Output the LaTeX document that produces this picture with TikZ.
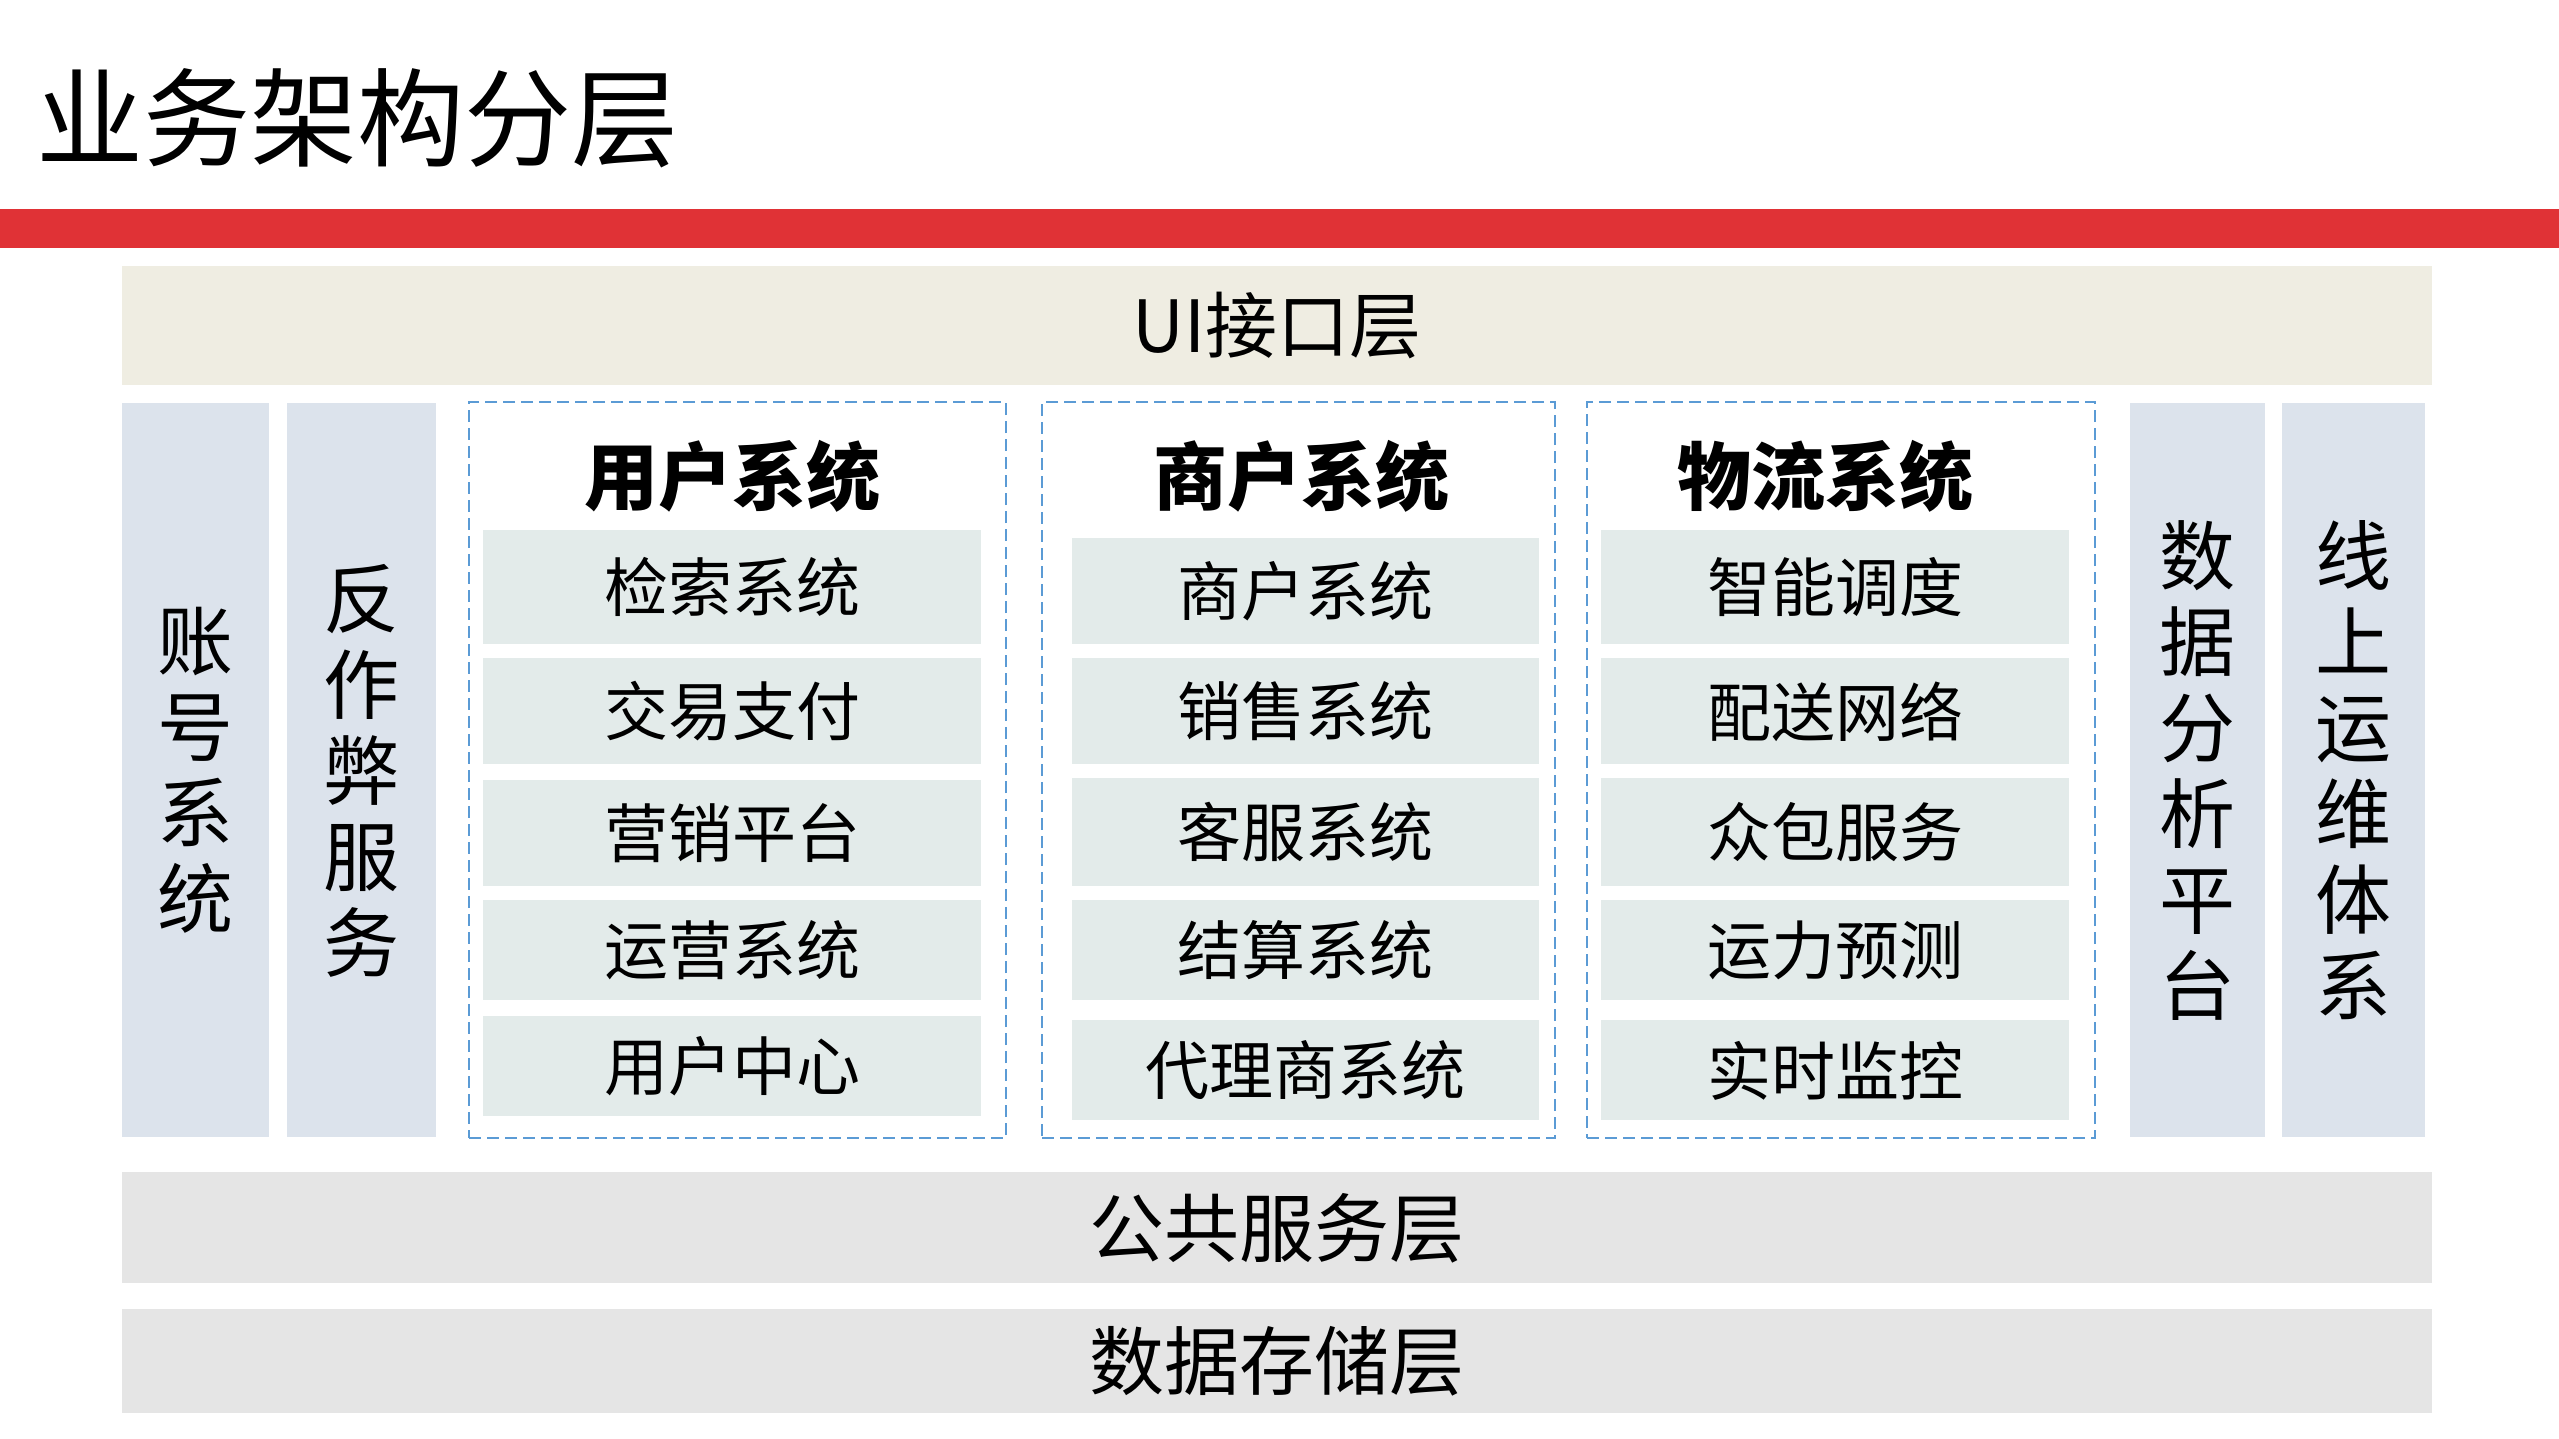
\documentclass[tikz,border=0pt]{standalone}
\usepackage{fontspec}
\newfontfamily\cjk{Noto Sans CJK SC}
\usepackage{tikz}
\usetikzlibrary{positioning}
\definecolor{barred}{RGB}{224,50,54}
\definecolor{uibeige}{RGB}{239,237,226}
\definecolor{colblue}{RGB}{220,227,236}
\definecolor{itemgrey}{RGB}{227,235,234}
\definecolor{bandgrey}{RGB}{229,229,229}
\definecolor{dashblue}{RGB}{91,155,213}
\tikzstyle{layerbox} = [rectangle, fill=bandgrey, anchor=north west, inner sep=0pt,
    font=\cjk\fontsize{37.5}{44}\selectfont]
\tikzstyle{sidecol} = [rectangle, fill=colblue, anchor=north west, inner sep=0pt,
    align=center, font=\cjk\fontsize{38}{43}\selectfont]
\tikzstyle{groupbox} = [rectangle, draw=dashblue, line width=1.1pt,
    dash pattern=on 6pt off 3pt, anchor=north west, inner sep=0pt]
\tikzstyle{grouptitle} = [font=\cjk\bfseries\fontsize{37}{40}\selectfont, inner sep=0pt]
\tikzstyle{itembox} = [rectangle, fill=itemgrey, anchor=north west, inner sep=0pt,
    font=\cjk\fontsize{32}{38}\selectfont]

\begin{document}
\begin{tikzpicture}[x=1pt, y=1pt]
                \useasboundingbox (0,0) rectangle (1279.5,-719.5);
                % title and red bar
                \node[anchor=west, inner sep=0pt, font=\cjk\fontsize{53.5}{60}\selectfont] (title) at (18,-59) {业务架构分层};
                \node[rectangle, fill=barred, anchor=north west, inner sep=0pt,
                    minimum width=1279.5pt, minimum height=19.5pt] (redbar) at (0,-104.5) {};
                % layers
                \node[layerbox, fill=uibeige, minimum width=1155pt, minimum height=59.5pt,
                    font=\cjk\fontsize{36}{40}\selectfont] (uilayer) at (61,-133) {UI接口层};
                \node[layerbox, minimum width=1155pt, minimum height=55.5pt] (publayer) at (61,-586) {公共服务层};
                \node[layerbox, minimum width=1155pt, minimum height=52pt] (storelayer) at (61,-654.5) {数据存储层};
                % side columns
                \node[sidecol, minimum width=73.5pt, minimum height=367pt] (acctcol) at (61,-201.5) {账\\号\\系\\统};
                \node[sidecol, minimum width=74.5pt, minimum height=367pt] (fraudcol) at (143.5,-201.5) {反\\作\\弊\\服\\务};
                \node[sidecol, minimum width=67.5pt, minimum height=367pt] (datacol) at (1065,-201.5) {数\\据\\分\\析\\平\\台};
                \node[sidecol, minimum width=71.5pt, minimum height=367pt] (opscol) at (1141,-201.5) {线\\上\\运\\维\\体\\系};
                % user system
                \node[groupbox, minimum width=268.5pt, minimum height=368pt] (usrbox) at (234,-200.5) {};
                \node[grouptitle] (usrtitle) at (366,-238) {用户系统};
                \node[itembox, minimum width=249pt, minimum height=57pt] (usr1) at (241.5,-265) {检索系统};
                \node[itembox, minimum width=249pt, minimum height=53pt] (usr2) at (241.5,-329) {交易支付};
                \node[itembox, minimum width=249pt, minimum height=53pt] (usr3) at (241.5,-390) {营销平台};
                \node[itembox, minimum width=249pt, minimum height=50pt] (usr4) at (241.5,-450) {运营系统};
                \node[itembox, minimum width=249pt, minimum height=50pt] (usr5) at (241.5,-508) {用户中心};
                % merchant system
                \node[groupbox, minimum width=256.5pt, minimum height=368pt] (merbox) at (520.5,-200.5) {};
                \node[grouptitle] (mertitle) at (650.5,-238) {商户系统};
                \node[itembox, minimum width=233.5pt, minimum height=53pt] (mer1) at (536,-269) {商户系统};
                \node[itembox, minimum width=233.5pt, minimum height=53pt] (mer2) at (536,-329) {销售系统};
                \node[itembox, minimum width=233.5pt, minimum height=54pt] (mer3) at (536,-389) {客服系统};
                \node[itembox, minimum width=233.5pt, minimum height=50pt] (mer4) at (536,-450) {结算系统};
                \node[itembox, minimum width=233.5pt, minimum height=50pt] (mer5) at (536,-510) {代理商系统};
                % logistics system
                \node[groupbox, minimum width=254pt, minimum height=368pt] (logbox) at (793,-200.5) {};
                \node[grouptitle] (logtitle) at (912.5,-238) {物流系统};
                \node[itembox, minimum width=234pt, minimum height=57pt] (log1) at (800.5,-265) {智能调度};
                \node[itembox, minimum width=234pt, minimum height=53pt] (log2) at (800.5,-329) {配送网络};
                \node[itembox, minimum width=234pt, minimum height=54pt] (log3) at (800.5,-389) {众包服务};
                \node[itembox, minimum width=234pt, minimum height=50pt] (log4) at (800.5,-450) {运力预测};
                \node[itembox, minimum width=234pt, minimum height=50pt] (log5) at (800.5,-510) {实时监控};
            \end{tikzpicture}
\end{document}
